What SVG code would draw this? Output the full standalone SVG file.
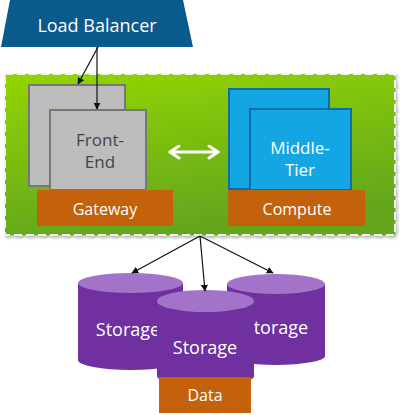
<svg xmlns="http://www.w3.org/2000/svg" width="400" height="415" viewBox="0 0 400 415">
<defs>
<linearGradient id="grn" x1="0" y1="0" x2="0.3" y2="1">
<stop offset="0" stop-color="#93d500"/>
<stop offset="1" stop-color="#63a61f"/>
</linearGradient>
<filter id="sh" x="-5%" y="-5%" width="110%" height="115%">
<feDropShadow dx="1.5" dy="2" stdDeviation="1.5" flood-color="#000" flood-opacity="0.3"/>
</filter>
<marker id="ah" viewBox="0 0 10 10" refX="9" refY="5" markerWidth="7" markerHeight="7" orient="auto-start-reverse" markerUnits="userSpaceOnUse">
<path d="M0,0 L10,5 L0,10 z" fill="#111"/>
</marker>
<marker id="wh" viewBox="0 0 10 10" refX="8" refY="5" markerWidth="5" markerHeight="5" orient="auto-start-reverse">
<path d="M2,1 L8,5 L2,9" fill="none" stroke="#fff" stroke-width="2" stroke-linecap="round" stroke-linejoin="round"/>
</marker>
</defs>
<style>
text{font-family:"Open Sans","Noto Sans","DejaVu Sans",sans-serif;text-anchor:middle}
.w{fill:#fff}
.gray{fill:#bdbdbd;stroke:#777;stroke-width:2}
.blue{fill:#14a6e3;stroke:#0c6ea3;stroke-width:2}
.orange{fill:#c4620c}
.cyl{fill:#7030a0}
.cyltop{fill:#a273c9}
.conn{stroke:#111;stroke-width:1.2;fill:none;marker-end:url(#ah)}
</style>
<rect width="400" height="415" fill="#fff"/>

<g id="load-balancer">
<path d="M10,0 L183,0 L193,47 L1,47 Z" fill="#0b5a8e"/>
<text x="97" y="32" class="w" font-size="18">Load Balancer</text>
</g>

<g id="panel">
<rect x="5" y="74" width="390" height="161" fill="url(#grn)" stroke="#f2f2f2" stroke-width="2" stroke-dasharray="8,4" filter="url(#sh)"/>
</g>

<g id="front-end">
<rect x="29" y="85" width="96" height="101" class="gray"/>
<rect x="50" y="110" width="96" height="80" class="gray"/>
<text x="100" y="146" fill="#444" font-size="17">Front-</text>
<text x="100" y="168" fill="#444" font-size="17">End</text>
</g>
<g id="gateway">
<rect x="37" y="190" width="136" height="36" class="orange"/>
<text x="105" y="215" class="w" font-size="16">Gateway</text>
</g>

<g id="middle-tier">
<rect x="229" y="89" width="100" height="100" class="blue"/>
<rect x="250" y="109" width="101" height="81" class="blue"/>
<text x="300" y="154" class="w" font-size="17">Middle-</text>
<text x="300" y="176" class="w" font-size="17">Tier</text>
</g>
<g id="compute">
<rect x="228" y="190" width="137" height="36" class="orange"/>
<text x="297" y="215" class="w" font-size="16">Compute</text>
</g>

<g id="storage-left">
<path d="M78,283 L78,360 A52.5,10 0 0 0 183,360 L183,283 Z" class="cyl"/>
<ellipse cx="130.5" cy="283" rx="52.5" ry="10" class="cyltop"/>
<text x="128" y="336" class="w" font-size="18">Storage</text>
</g>
<g id="storage-right">
<path d="M227,284 L227,356 A49,9 0 0 0 325,356 L325,284 Z" class="cyl"/>
<ellipse cx="276" cy="284" rx="49" ry="10" class="cyltop"/>
<text x="276" y="334" class="w" font-size="18">Storage</text>
</g>
<g id="storage-middle">
<path d="M157,301 L157,376 A48.5,10 0 0 0 254,376 L254,301 Z" class="cyl"/>
<ellipse cx="205.5" cy="301" rx="48.5" ry="11" class="cyltop"/>
<text x="205" y="354" class="w" font-size="18">Storage</text>
</g>
<g id="data">
<rect x="159" y="377" width="92" height="36" class="orange"/>
<text x="205" y="401" class="w" font-size="16">Data</text>
</g>

<g id="connectors">
<line x1="98" y1="47" x2="78" y2="84" class="conn"/>
<line x1="97" y1="47" x2="97" y2="109" class="conn"/>
<line x1="200" y1="236" x2="132" y2="273" class="conn"/>
<line x1="200" y1="236" x2="205" y2="291" class="conn"/>
<line x1="200" y1="236" x2="273" y2="273" class="conn"/>
<line x1="170" y1="152" x2="218" y2="152" stroke="#fff" stroke-width="3" stroke-linecap="round" marker-start="url(#wh)" marker-end="url(#wh)"/>
</g>
</svg>
